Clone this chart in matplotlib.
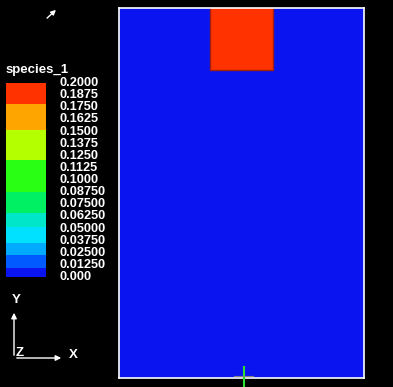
import numpy as np
import matplotlib
matplotlib.use("Agg")
import matplotlib.pyplot as plt
from matplotlib.colors import ListedColormap, BoundaryNorm

# ---- data ----
title = "species_1"
tick_values = [0.2000, 0.1875, 0.1750, 0.1625, 0.1500, 0.1375, 0.1250, 0.1125,
               0.1000, 0.08750, 0.07500, 0.06250, 0.05000, 0.03750, 0.02500,
               0.01250, 0.000]
tick_labels = ["0.2000", "0.1875", "0.1750", "0.1625", "0.1500", "0.1375",
               "0.1250", "0.1125", "0.1000", "0.08750", "0.07500", "0.06250",
               "0.05000", "0.03750", "0.02500", "0.01250", "0.000"]
band_bounds = [0.0, 0.0093, 0.0227, 0.0351, 0.0515, 0.066, 0.0876, 0.1206,
               0.1515, 0.1784, 0.2001]
band_colors = ["#0a14f0", "#005aff", "#00aaff", "#00e1ff", "#00e6c8",
               "#00f064", "#28ff14", "#b4ff00", "#ffa500", "#ff3200"]
# domain (x 0..1, y 0..1.5), block of species_1 = 0.2
x_edges = np.array([0.0, 0.371, 0.629, 1.0])
y_edges = np.array([0.0, 1.248, 1.5])
field = np.array([[0.0, 0.0, 0.0],
                  [0.0, 0.2, 0.0]])

W, H = 393, 387
fig = plt.figure(figsize=(W / 100, H / 100), dpi=100, facecolor="black")
cmap = ListedColormap(band_colors)
norm = BoundaryNorm(band_bounds, cmap.N)

# main domain
ax = fig.add_axes([119 / W, (H - 378) / H, 245 / W, 370 / H])
ax.set_facecolor("black")
ax.pcolormesh(x_edges, y_edges, field, cmap=cmap, norm=norm)
ax.plot([x_edges[1], x_edges[1], x_edges[2], x_edges[2]],
        [y_edges[2], y_edges[1], y_edges[1], y_edges[2]],
        color="#a02010", lw=1)
ax.set_xlim(0, 1)
ax.set_ylim(0, 1.5)
ax.set_xticks([]); ax.set_yticks([])
for s in ax.spines.values():
    s.set_color("white")
    s.set_linewidth(1.2)

# colorbar
cax = fig.add_axes([6 / W, (H - 277) / H, 40 / W, 194 / H])
vals = np.linspace(0, 0.2, 400)
cax.pcolormesh([0, 1], np.linspace(0, 0.2, 401), vals[:, None], cmap=cmap, norm=norm)
cax.set_xlim(0, 1); cax.set_ylim(0, 0.2)
cax.axis("off")

# overlay in pixel coordinates
ov = fig.add_axes([0, 0, 1, 1], facecolor="none")
ov.set_xlim(0, W); ov.set_ylim(H, 0)
ov.axis("off")
fp = dict(family="Liberation Sans", weight="bold", color="white")
ov.text(6, 70, title, fontsize=9.5, va="center", ha="left", **fp)
for v, lab in zip(tick_values, tick_labels):
    y = 277 - v / 0.2 * 194
    ov.text(60, y, lab, fontsize=9.2, va="center", ha="left", **fp)

# triad
ov.annotate("", xy=(14, 310), xytext=(14, 358),
            arrowprops=dict(arrowstyle="-|>", color="white", lw=1, mutation_scale=8))
ov.annotate("", xy=(64, 358), xytext=(14, 358),
            arrowprops=dict(arrowstyle="-|>", color="white", lw=1, mutation_scale=8))
ov.text(16, 300, "Y", fontsize=9.5, va="center", ha="center", **fp)
ov.text(73, 355, "X", fontsize=9.5, va="center", ha="center", **fp)
ov.text(20, 353, "Z", fontsize=9.5, va="center", ha="center", **fp)
ov.annotate("", xy=(58, 8), xytext=(45, 20),
            arrowprops=dict(arrowstyle="-|>", color="white", lw=1, mutation_scale=7))
# green marker at bottom
ov.plot([243.5, 243.5], [367, 387], color="#30e030", lw=1.5)
ov.plot([234, 253], [376, 376], color="#808080", lw=0.8)

fig.savefig("out.png", dpi=100, facecolor="black")
